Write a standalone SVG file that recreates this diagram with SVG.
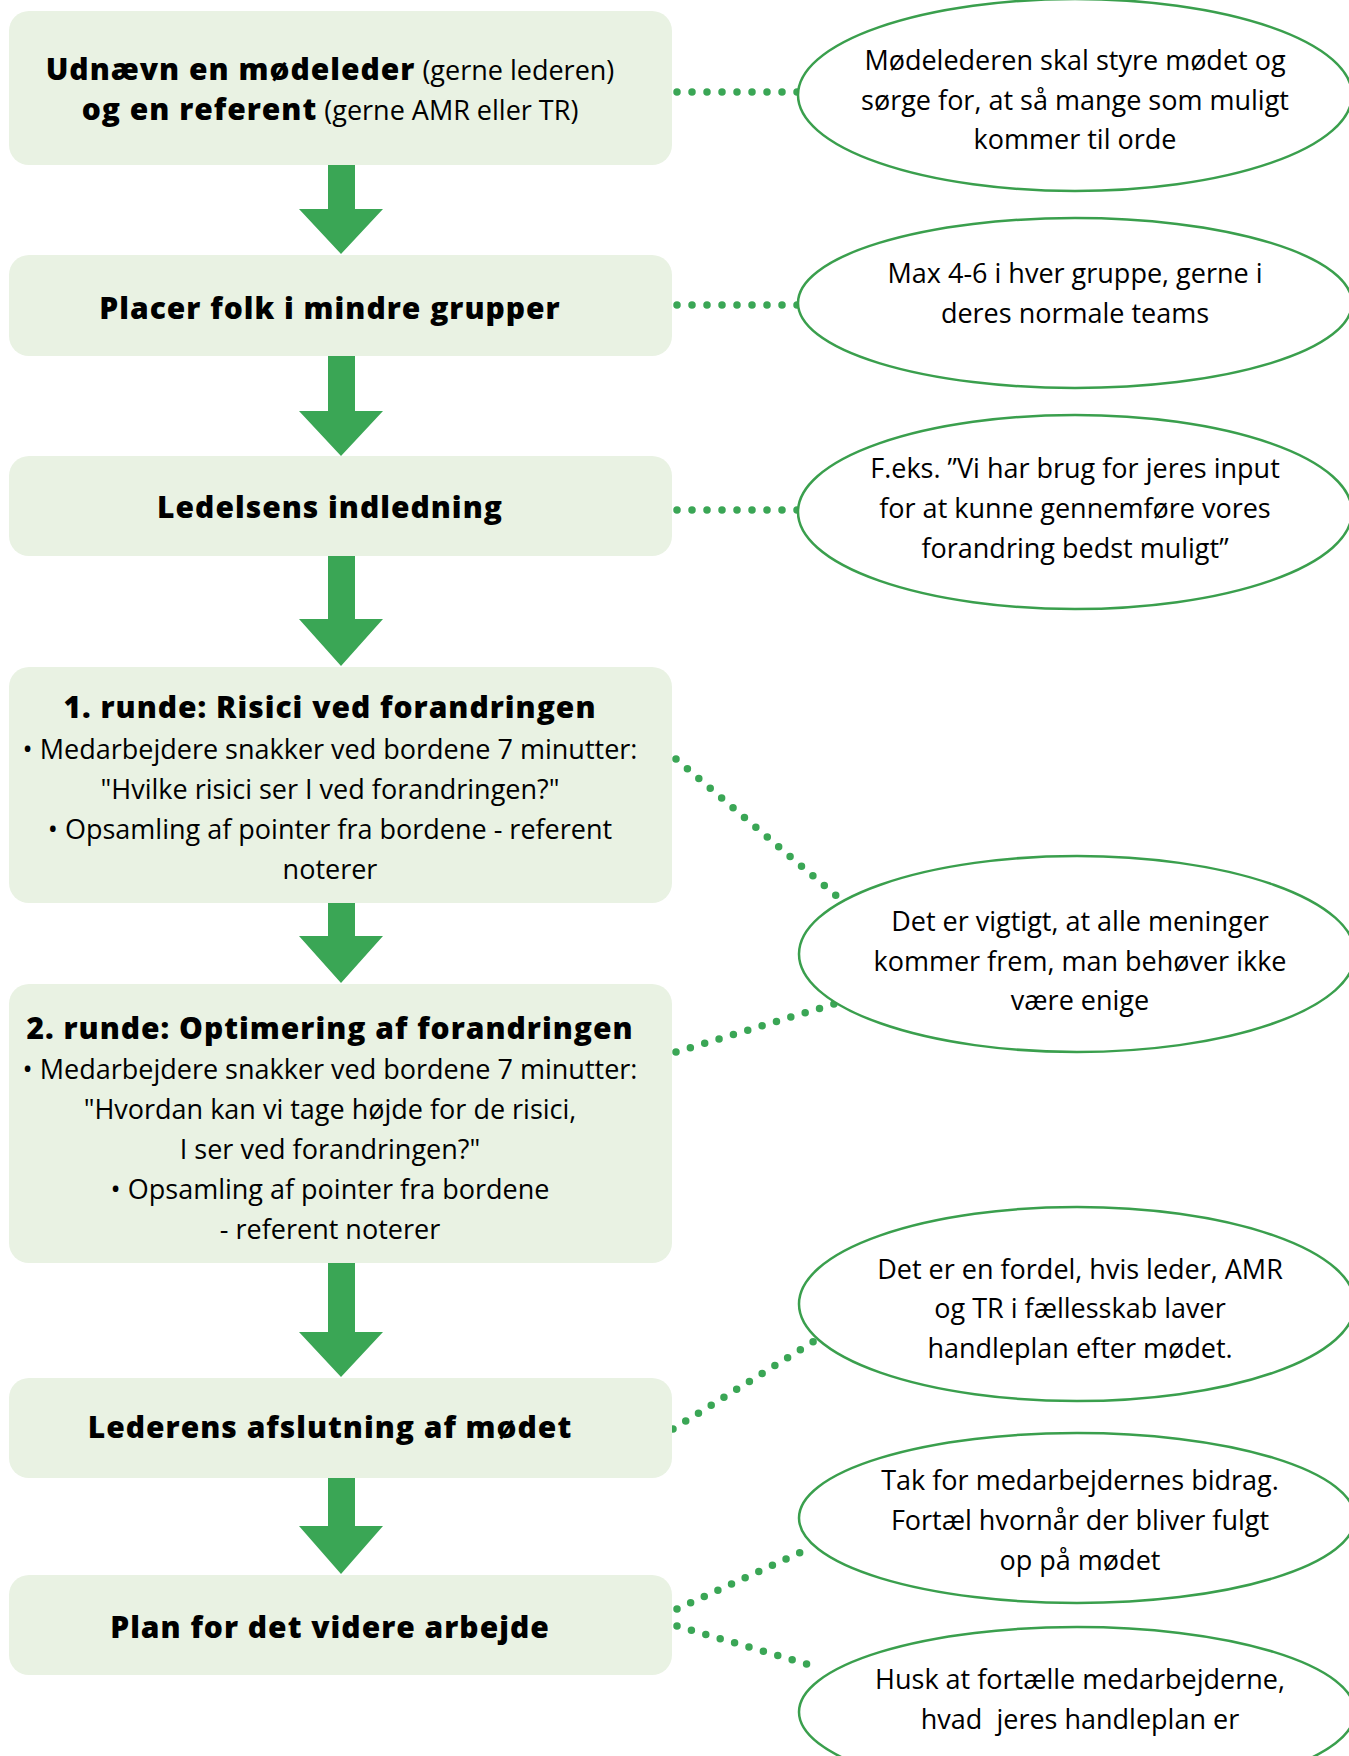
<svg xmlns="http://www.w3.org/2000/svg" width="1349" height="1756" viewBox="0 0 1349 1756">
<style>
.box{fill:#e9f2e3}
.ell{fill:#fff;stroke:#3a9f4d;stroke-width:2.5}
.arr{fill:#3aa655}
.dot{fill:none;stroke:#3aa655;stroke-width:7.5;stroke-linecap:round;stroke-dasharray:0 15}
text{font-family:"Open Sans","Noto Sans","DejaVu Sans",sans-serif;fill:#000;text-anchor:middle}
.t{font-size:30px;font-weight:800;letter-spacing:1px}
.b{font-size:27px}
.s{font-size:27px;font-weight:400;letter-spacing:0}
.pre{white-space:pre}
</style>
<rect width="1349" height="1756" fill="#fff"/>
<g id="connectors">
<path class="arr" d="M328,165H355V209H383L341,254L299,209H328Z"/>
<path class="arr" d="M328,356H355V411H383L341,456L299,411H328Z"/>
<path class="arr" d="M328,556H355V619H383L341,666L299,619H328Z"/>
<path class="arr" d="M328,903H355V936H383L341,983L299,936H328Z"/>
<path class="arr" d="M328,1263H355V1332H383L341,1377L299,1332H328Z"/>
<path class="arr" d="M328,1478H355V1526H383L341,1574L299,1526H328Z"/>
<line class="dot" x1="677" y1="92" x2="799" y2="92"/>
<line class="dot" x1="677" y1="305" x2="799" y2="305"/>
<line class="dot" x1="677" y1="510" x2="799" y2="510"/>
<line class="dot" x1="676" y1="759" x2="840" y2="899"/>
<line class="dot" x1="676" y1="1052" x2="834" y2="1004"/>
<line class="dot" x1="673" y1="1429" x2="816" y2="1340"/>
<line class="dot" x1="677" y1="1609" x2="812" y2="1547"/>
<line class="dot" x1="677" y1="1626" x2="817" y2="1667"/>
</g>
<g id="box1"><rect class="box" x="9" y="11" width="663" height="154" rx="20"/>
<text x="330" y="80"><tspan class="t">Udnævn en mødeleder</tspan><tspan class="s"> (gerne lederen)</tspan></text>
<text x="330" y="120"><tspan class="t">og en referent</tspan><tspan class="s"> (gerne AMR eller TR)</tspan></text></g>
<g id="box2"><rect class="box" x="9" y="255" width="663" height="101" rx="20"/>
<text class="t" x="330" y="319">Placer folk i mindre grupper</text></g>
<g id="box3"><rect class="box" x="9" y="456" width="663" height="100" rx="20"/>
<text class="t" x="330" y="518">Ledelsens indledning</text></g>
<g id="box4"><rect class="box" x="9" y="667" width="663" height="236" rx="20"/>
<text class="t" x="330" y="718">1. runde: Risici ved forandringen</text>
<text class="b" x="330" y="759">• Medarbejdere snakker ved bordene 7 minutter:</text>
<text class="b" x="330" y="799">"Hvilke risici ser I ved forandringen?"</text>
<text class="b" x="330" y="839">• Opsamling af pointer fra bordene - referent</text>
<text class="b" x="330" y="879">noterer</text></g>
<g id="box5"><rect class="box" x="9" y="984" width="663" height="279" rx="20"/>
<text class="t" x="330" y="1039">2. runde: Optimering af forandringen</text>
<text class="b" x="330" y="1079">• Medarbejdere snakker ved bordene 7 minutter:</text>
<text class="b" x="330" y="1119">"Hvordan kan vi tage højde for de risici,</text>
<text class="b" x="330" y="1159">I ser ved forandringen?"</text>
<text class="b" x="330" y="1199">• Opsamling af pointer fra bordene</text>
<text class="b" x="330" y="1239">- referent noterer</text></g>
<g id="box6"><rect class="box" x="9" y="1378" width="663" height="100" rx="20"/>
<text class="t" x="330" y="1438">Lederens afslutning af mødet</text></g>
<g id="box7"><rect class="box" x="9" y="1575" width="663" height="100" rx="20"/>
<text class="t" x="330" y="1638">Plan for det videre arbejde</text></g>
<g id="note1"><ellipse class="ell" cx="1075" cy="95" rx="277" ry="96"/>
<text class="b" x="1075" y="70">Mødelederen skal styre mødet og</text>
<text class="b" x="1075" y="110">sørge for, at så mange som muligt</text>
<text class="b" x="1075" y="149">kommer til orde</text></g>
<g id="note2"><ellipse class="ell" cx="1075" cy="303" rx="277" ry="85"/>
<text class="b" x="1075" y="283">Max 4-6 i hver gruppe, gerne i</text>
<text class="b" x="1075" y="323">deres normale teams</text></g>
<g id="note3"><ellipse class="ell" cx="1075" cy="512" rx="277" ry="97"/>
<text class="b" x="1075" y="478">F.eks. ”Vi har brug for jeres input</text>
<text class="b" x="1075" y="518">for at kunne gennemføre vores</text>
<text class="b" x="1075" y="558">forandring bedst muligt”</text></g>
<g id="note4"><ellipse class="ell" cx="1077" cy="954" rx="278" ry="98"/>
<text class="b" x="1080" y="931">Det er vigtigt, at alle meninger</text>
<text class="b" x="1080" y="971">kommer frem, man behøver ikke</text>
<text class="b" x="1080" y="1010">være enige</text></g>
<g id="note5"><ellipse class="ell" cx="1077" cy="1304" rx="278" ry="97"/>
<text class="b" x="1080" y="1279">Det er en fordel, hvis leder, AMR</text>
<text class="b" x="1080" y="1318">og TR i fællesskab laver</text>
<text class="b" x="1080" y="1358">handleplan efter mødet.</text></g>
<g id="note6"><ellipse class="ell" cx="1077" cy="1518" rx="278" ry="85"/>
<text class="b" x="1080" y="1490">Tak for medarbejdernes bidrag.</text>
<text class="b" x="1080" y="1530">Fortæl hvornår der bliver fulgt</text>
<text class="b" x="1080" y="1570">op på mødet</text></g>
<g id="note7"><ellipse class="ell" cx="1077" cy="1712" rx="278" ry="85"/>
<text class="b" x="1080" y="1689">Husk at fortælle medarbejderne,</text>
<text class="b pre" x="1080" y="1729">hvad  jeres handleplan er</text></g>
</svg>
